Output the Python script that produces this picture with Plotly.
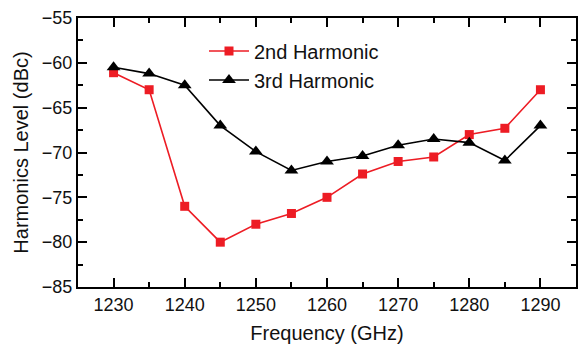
import plotly.graph_objects as go

freq = [1230, 1235, 1240, 1245, 1250, 1255, 1260, 1265, 1270, 1275, 1280, 1285, 1290]
second_harm = [-61.1, -63.0, -76.0, -80.0, -78.0, -76.8, -75.0, -72.4, -71.0, -70.5, -68.0, -67.3, -63.0]
third_harm = [-60.5, -61.2, -62.5, -67.0, -69.9, -72.0, -71.0, -70.4, -69.2, -68.5, -68.9, -70.9, -67.0]

x_ticks = [1230, 1240, 1250, 1260, 1270, 1280, 1290]
y_ticks = [-85, -80, -75, -70, -65, -60, -55]

fig = go.Figure()
fig.add_trace(go.Scatter(
    x=freq, y=second_harm, name="2nd Harmonic", mode="lines+markers",
    line=dict(color="#ED1C24", width=1.6),
    marker=dict(symbol="square", size=9, color="#ED1C24"),
))
fig.add_trace(go.Scatter(
    x=freq, y=third_harm, name="3rd Harmonic", mode="lines+markers",
    line=dict(color="#000000", width=1.6),
    marker=dict(symbol="triangle-up", size=12, color="#000000"),
))

font_family = "Liberation Sans, Arial, sans-serif"
txt = "#111"
axis_common = dict(
    showline=True, linecolor="black", linewidth=2, mirror="allticks",
    ticks="inside", ticklen=9, tickwidth=1.5, tickcolor="black",
    showgrid=False, zeroline=False, automargin=False,
    tickfont=dict(family=font_family, size=18, color=txt),
)

fig.update_layout(
    width=584, height=349,
    margin=dict(l=78, r=8, t=18, b=62),
    plot_bgcolor="white", paper_bgcolor="white",
    font=dict(family=font_family, color=txt),
    legend=dict(
        x=0.253, y=0.95, xanchor="left", yanchor="top",
        bgcolor="rgba(0,0,0,0)", font=dict(family=font_family, size=20, color=txt),
        tracegroupgap=0, itemwidth=40,
    ),
    xaxis=dict(
        range=[1225, 1295], tickvals=x_ticks,
        minor=dict(dtick=5, tick0=1225, ticks="inside", ticklen=5, tickwidth=1.5, tickcolor="black"),
        title=dict(text="Frequency (GHz)", font=dict(family=font_family, size=20, color=txt), standoff=12),
        **axis_common,
    ),
    yaxis=dict(
        range=[-85, -55], tickvals=y_ticks,
        minor=dict(dtick=2.5, tick0=-85, ticks="inside", ticklen=5, tickwidth=1.5, tickcolor="black"),
        title=dict(text="Harmonics Level (dBc)", font=dict(family=font_family, size=20, color=txt), standoff=8),
        **axis_common,
    ),
)

fig.write_html(
    "out.html",
    config={"displayModeBar": False},
    post_script="document.body.style.margin='0';document.body.style.padding='0';",
)
